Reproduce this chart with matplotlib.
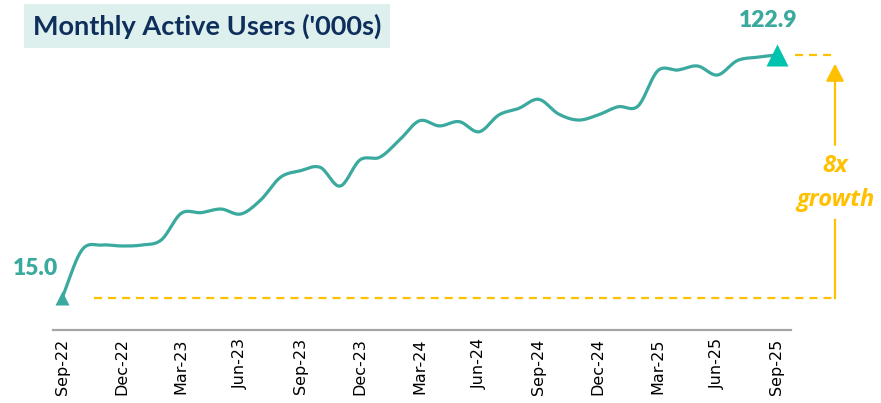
import numpy as np
import matplotlib
matplotlib.use("Agg")
import matplotlib.pyplot as plt
from matplotlib.patches import Rectangle

plt.rcParams['lines.scale_dashes'] = False

# ---- data ----
users = [15.0, 36.3, 38.5, 38.1, 38.5, 40.8, 52.6, 52.9, 54.5, 52.3, 58.5, 68.6,
         71.5, 73.0, 64.7, 76.3, 77.5, 85.2, 93.7, 91.4, 93.3, 88.8, 96.3, 99.2,
         103.2, 96.7, 94.0, 96.3, 99.9, 100.2, 115.9, 116.2, 118.0, 114.0, 120.4,
         121.9, 122.9]
tick_labels = ["Sep-22", "Dec-22", "Mar-23", "Jun-23", "Sep-23", "Dec-23", "Mar-24",
               "Jun-24", "Sep-24", "Dec-24", "Mar-25", "Jun-25", "Sep-25"]
tick_step = 3
title = "Monthly Active Users ('000s)"
growth_top = "8x"
growth_bottom = "growth"

TEAL = "#3AA99E"
TEAL_END = "#00C3AE"
ORANGE = "#FFC000"
NAVY = "#0E2F5C"
TITLE_BG = "#DEF0EE"

x = np.arange(len(users), dtype=float)
y = np.array(users, dtype=float)


def catmull_rom(xs, ys, n=20):
    px = np.concatenate([[2 * xs[0] - xs[1]], xs, [2 * xs[-1] - xs[-2]]])
    py = np.concatenate([[2 * ys[0] - ys[1]], ys, [2 * ys[-1] - ys[-2]]])
    outx, outy = [], []
    t = np.linspace(0, 1, n, endpoint=False)
    for i in range(1, len(px) - 2):
        for arr, out in ((px, outx), (py, outy)):
            p0, p1, p2, p3 = arr[i - 1], arr[i], arr[i + 1], arr[i + 2]
            out.extend(0.5 * ((2 * p1) + (-p0 + p2) * t
                              + (2 * p0 - 5 * p1 + 4 * p2 - p3) * t ** 2
                              + (-p0 + 3 * p1 - 3 * p2 + p3) * t ** 3))
    outx.append(xs[-1]); outy.append(ys[-1])
    return np.array(outx), np.array(outy)


W, H = 881, 403
fig = plt.figure(figsize=(W / 100, H / 100), dpi=100)
ax = fig.add_axes([52.5 / W, 73 / H, 738 / W, 1 - 73 / H])
ax.set_xlim(-0.48, 36.68)
ax.set_ylim(0.8, 147.3)

sx, sy = catmull_rom(x, y)
ax.plot(sx, sy, color=TEAL, lw=2.3, solid_capstyle='round', zorder=3)
ax.plot(x[0], y[0], marker='^', ms=10, color=TEAL, mec='none', zorder=4, clip_on=False)
ax.plot(x[-1], y[-1], marker='^', ms=16, color=TEAL_END, mec='none', zorder=4, clip_on=False)

# value labels
ax.text(x[0] - 1.36, y[0] + 13.3, f"{users[0]:.1f}", color=TEAL, fontsize=16.5,
        fontweight='heavy', family='Lato', ha='center', va='center')
ax.text(x[-1] - 0.45, y[-1] + 15.1, f"{users[-1]:.1f}", color=TEAL, fontsize=16.5,
        fontweight='heavy', family='Lato', ha='center', va='center')

# growth annotation
xg = x[-1] + 2.92
dash = (0, (5.8, 4.3))
ax.plot([x[0] + 1.6, xg], [y[0], y[0]], color=ORANGE, lw=1.6, ls=dash, clip_on=False)
ax.plot([x[-1] + 0.9, xg], [y[-1], y[-1]], color=ORANGE, lw=1.6, ls=dash, clip_on=False)
ax.plot([xg, xg], [y[0], 49.6], color=ORANGE, lw=1.6, clip_on=False)
ax.annotate("", xy=(xg, 119.0), xytext=(xg, 83.0),
            arrowprops=dict(arrowstyle='-|>,head_length=1.05,head_width=0.55',
                            color=ORANGE, lw=1.6, shrinkA=0, shrinkB=0,
                            mutation_scale=10),
            annotation_clip=False)
ax.text(xg, 73.8, growth_top, color=ORANGE, fontsize=17, fontweight='bold',
        fontstyle='italic', family='Open Sans', ha='center', va='center')
ax.text(xg, 58.5, growth_bottom, color=ORANGE, fontsize=17, fontweight='bold',
        fontstyle='italic', family='Open Sans', ha='center', va='center')

# axes styling
for s in ('top', 'right', 'left'):
    ax.spines[s].set_visible(False)
ax.spines['bottom'].set_color('#A6A6A6')
ax.spines['bottom'].set_linewidth(1.6)
ax.set_yticks([])
ax.set_xticks(x[::tick_step])
ax.set_xticklabels(tick_labels, rotation=90, fontsize=11.5, family='DejaVu Sans', color='black')
ax.tick_params(axis='x', length=0, pad=6)

# title box
fig.patches.append(Rectangle((24 / W, 1 - 48 / H), 366 / W, 44 / H,
                             transform=fig.transFigure, facecolor=TITLE_BG,
                             edgecolor='none', zorder=0))
fig.text(33 / W, 1 - 26 / H, title, color=NAVY, fontsize=19.5, fontweight='bold',
         family='Lato', ha='left', va='center')

fig.savefig("out.png", dpi=100)
